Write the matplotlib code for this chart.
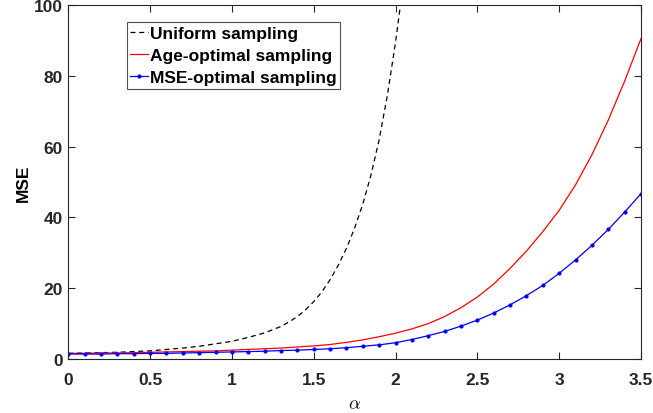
import numpy as np
import matplotlib.pyplot as plt

plt.rcParams['font.family'] = ['Liberation Sans', 'DejaVu Sans']
plt.rcParams['mathtext.fontset'] = 'cm'

# uniform sampling (dashed black)
alpha_u = [0, 0.1, 0.2, 0.3, 0.4, 0.5, 0.6, 0.7, 0.8, 0.9, 1.0, 1.1, 1.2, 1.3,
           1.35, 1.4, 1.45, 1.5, 1.55, 1.6, 1.65, 1.7, 1.75, 1.8, 1.85, 1.9,
           1.95, 2.0, 2.03]
mse_u = [1.6, 1.7, 1.8, 1.9, 2.1, 2.3, 2.7, 3.1, 3.6, 4.3, 5.0, 6.1, 7.4, 9.2,
         10.5, 12.0, 13.9, 16.2, 19.0, 22.4, 26.5, 31.3, 37, 43.8, 52, 62,
         74.5, 89.5, 100]

alpha = np.round(np.arange(0, 3.51, 0.1), 2)
# age-optimal sampling (red)
mse_age = [1.6, 1.6, 1.7, 1.7, 1.8, 1.9, 2.0, 2.1, 2.2, 2.3, 2.5, 2.7, 2.9, 3.1,
           3.4, 3.7, 4.1, 4.7, 5.4, 6.3, 7.3, 8.5, 10.0, 12.0, 14.5, 17.5, 21.2,
           25.6, 30.5, 36, 42, 49.2, 57.7, 67.5, 78.5, 90.5]
# MSE-optimal sampling (blue)
mse_opt = [1.4, 1.4, 1.4, 1.5, 1.5, 1.6, 1.6, 1.7, 1.8, 1.9, 2.0, 2.1, 2.2, 2.4,
           2.5, 2.7, 2.9, 3.2, 3.6, 4.0, 4.6, 5.5, 6.6, 7.8, 9.3, 11.0, 13.0,
           15.3, 17.9, 20.8, 24.2, 28.0, 32.1, 36.6, 41.5, 46.7]

fig = plt.figure(figsize=(6.53, 4.14), dpi=100)
ax = fig.add_axes([0.1046, 0.1304, 0.877, 0.855])

ax.plot(alpha_u, mse_u, 'k--', lw=0.9, dashes=(4, 3), label='Uniform sampling')
ax.plot(alpha, mse_age, color='red', lw=0.9, label='Age-optimal sampling')
ax.plot(alpha, mse_opt, color='blue', lw=0.9, marker='.', ms=4,
        label='MSE-optimal sampling')

ax.set_xlim(0, 3.5)
ax.set_ylim(0, 100)
ax.set_xticks(np.arange(0, 3.51, 0.5))
ax.set_xticklabels(['0', '0.5', '1', '1.5', '2', '2.5', '3', '3.5'])
ax.set_yticks(np.arange(0, 101, 20))
ax.tick_params(direction='in', top=True, right=True, length=5, width=0.8,
               labelsize=12.5, colors='#262626')
ax.tick_params(axis='x', pad=9)
ax.tick_params(axis='y', pad=4)
for lab in ax.get_xticklabels() + ax.get_yticklabels():
    lab.set_fontweight('bold')
for s in ax.spines.values():
    s.set_color('#262626')
    s.set_linewidth(0.8)

ax.set_xlabel(r'$\alpha$', fontsize=13, labelpad=6)
ax.set_ylabel('MSE', fontsize=12.5, fontweight='bold', labelpad=2)

leg = ax.legend(loc='upper left', bbox_to_anchor=(0.102, 0.951),
                prop={'weight': 'bold', 'size': 12.5}, handlelength=1.0,
                handletextpad=0.15, borderpad=0.2, labelspacing=0.4,
                fancybox=False, edgecolor='#262626', borderaxespad=0)
leg.get_frame().set_linewidth(0.8)

fig.savefig('out.png', dpi=100)
